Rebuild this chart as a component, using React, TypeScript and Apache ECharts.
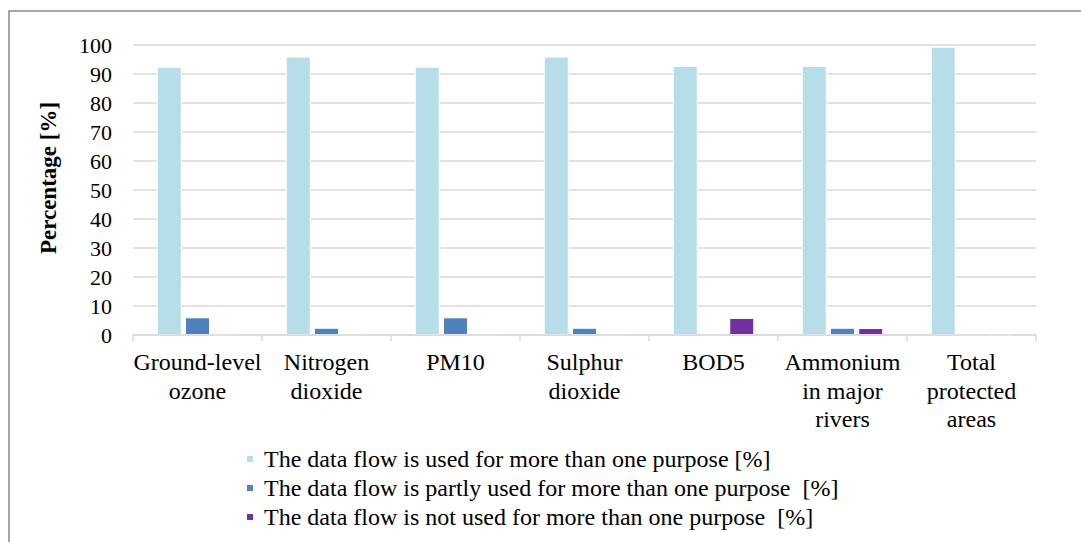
import React, { useEffect, useRef } from "react";
import * as echarts from "echarts";

const categories = [
  "Ground-level\nozone",
  "Nitrogen\ndioxide",
  "PM10",
  "Sulphur\ndioxide",
  "BOD5",
  "Ammonium\nin major\nrivers",
  "Total\nprotected\nareas",
];
const seriesNames = [
  "The data flow is used for more than one purpose [%]",
  "The data flow is partly used for more than one purpose  [%]",
  "The data flow is not used for more than one purpose  [%]",
];
const usedValues = [92.5, 96.0, 92.5, 96.0, 92.8, 92.8, 99.4];
const partlyValues = [6.1, 2.5, 6.1, 2.5, 0, 2.5, 0];
const notUsedValues = [0, 0, 0, 0, 5.9, 2.4, 0];
const colors = ["#b7dde8", "#4f81bd", "#7030a0"];
const yTitle = "Percentage [%]";

const FONT = "Liberation Serif";

export default function App() {
  const ref = useRef<HTMLDivElement>(null);
  useEffect(() => {
    document.body.style.margin = "0";
    if (!ref.current) return;
    const chart = echarts.init(ref.current, null, { renderer: "svg" });
    const values = [usedValues, partlyValues, notUsedValues];
    chart.setOption({
      animation: false,
      backgroundColor: "#ffffff",
      graphic: [
        {
          type: "rect",
          shape: { x: 9, y: 11, width: 1200, height: 700 },
          style: { fill: "none", stroke: "#898989", lineWidth: 1.5 },
          silent: true,
        },
        {
          type: "text",
          x: 48,
          y: 178,
          rotation: Math.PI / 2,
          style: {
            text: yTitle,
            font: "bold 23px " + FONT,
            fill: "#000",
            align: "center",
            verticalAlign: "middle",
          },
          silent: true,
        },
      ],
      grid: { left: 133, right: 45, top: 45, bottom: 207, containLabel: false },
      legend: {
        orient: "vertical",
        left: 240,
        top: 442,
        icon: "rect",
        itemWidth: 8,
        itemHeight: 8,
        itemGap: 5,
        data: seriesNames,
        textStyle: {
          fontFamily: FONT,
          fontWeight: "normal",
          fontSize: 24,
          color: "#000",
          lineHeight: 24,
          padding: [0, 0, 0, 5],
        },
      },
      xAxis: {
        type: "category",
        data: categories,
        z: 5,
        axisLine: { lineStyle: { color: "#d9d9d9", width: 1.5 } },
        axisTick: { show: true, length: 6, lineStyle: { color: "#d9d9d9", width: 1.5 } },
        axisLabel: {
          fontFamily: FONT,
          fontWeight: "normal",
          fontSize: 24,
          lineHeight: 28.5,
          color: "#000",
          margin: 13,
          interval: 0,
        },
      },
      yAxis: {
        type: "value",
        min: 0,
        max: 100,
        interval: 10,
        axisLine: { show: false },
        axisTick: { show: false },
        splitLine: { lineStyle: { color: "#d9d9d9", width: 1.5 } },
        axisLabel: { fontFamily: FONT, fontWeight: "normal", fontSize: 22, color: "#000", margin: 21 },
      },
      series: seriesNames.map((name, i) => ({
        name,
        type: "bar",
        data: values[i],
        barWidth: 25,
        barGap: "13%",
        itemStyle: { color: colors[i], borderColor: "#ffffff", borderWidth: 1 },
      })),
    });
    return () => chart.dispose();
  }, []);
  return <div ref={ref} style={{ width: 1081, height: 542 }} />;
}
